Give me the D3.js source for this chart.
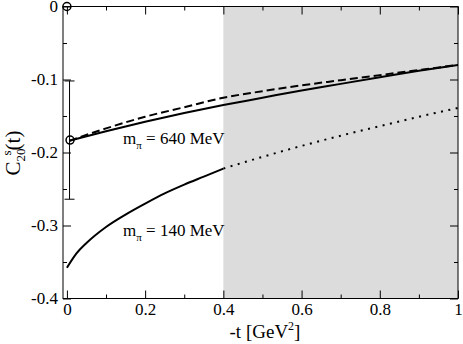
<!DOCTYPE html>
<html>
<head>
<meta charset="utf-8">
<script src="https://cdn.jsdelivr.net/npm/d3@7"></script>
<style>
  body { margin: 0; background: #fff; }
  svg text { font-family: "Liberation Serif", "Times New Roman", Times, serif !important; }
</style>
</head>
<body>
<div id="chart"></div>
<script>
// data
var t640 = [0.006, 0.1, 0.2, 0.3, 0.4, 0.5, 0.6, 0.7, 0.8, 0.9, 1.0];
var c640solid = [-0.184, -0.171, -0.158, -0.146, -0.135, -0.125, -0.115, -0.106, -0.097, -0.088, -0.080];
var c640dash = [-0.184, -0.167, -0.151, -0.138, -0.125, -0.116, -0.108, -0.101, -0.094, -0.087, -0.080];
var t140 = [0, 0.025, 0.05, 0.1, 0.15, 0.2, 0.25, 0.3, 0.35, 0.4];
var c140 = [-0.358, -0.338, -0.324, -0.302, -0.285, -0.270, -0.256, -0.244, -0.233, -0.222];
var t140dot = [0.4, 0.5, 0.6, 0.7, 0.8, 0.9, 1.0];
var c140dot = [-0.222, -0.206, -0.191, -0.177, -0.164, -0.151, -0.139];
var pointT = [0, 0.008];
var pointC = [0, -0.183];
var pointErr = [0, 0.081];
var shadeRange = [0.4, 1.0];
var xTicks = [0, 0.2, 0.4, 0.6, 0.8, 1];
var xTickLabels = ["0", "0.2", "0.4", "0.6", "0.8", "1"];
var xMinor = [0.1, 0.3, 0.5, 0.7, 0.9];
var yTicks = [0, -0.1, -0.2, -0.3, -0.4];
var yTickLabels = ["0", "-0.1", "-0.2", "-0.3", "-0.4"];
var yMinor = [-0.05, -0.15, -0.25, -0.35];

var w = 463, h = 344;
var pLeft = 63, pRight = 458, pTop = 6.5, pBottom = 298.5;
var serif = "'Liberation Serif', 'Times New Roman', Times, serif";

var svg = d3.select("#chart").append("svg").attr("width", w).attr("height", h)
  .style("font-family", serif);

// scales
var xScale = d3.scaleLinear().domain([-0.01, 1]).range([pLeft, pRight]);
var yScale = d3.scaleLinear().domain([-0.4, 0]).range([pBottom, pTop]);

// shaded region
svg.append("rect").attr("x", xScale(shadeRange[0])).attr("y", pTop)
  .attr("width", xScale(shadeRange[1]) - xScale(shadeRange[0])).attr("height", pBottom - pTop)
  .attr("fill", "#dcdcdc");

// axes, ticks inward on all sides
function tickAxis(axis, scale, vals, size, tr, labels) {
  var a = axis(scale).tickValues(vals).tickSizeInner(-size).tickSizeOuter(0);
  if (labels) { a.tickFormat(function(d, i) { return labels[i]; }); } else { a.tickFormat(""); }
  var g = svg.append("g").attr("transform", tr).call(a);
  g.attr("font-family", null).attr("font-size", 17);
  g.select(".domain").remove();
  g.selectAll("line").attr("stroke", "#000");
  g.selectAll("text").attr("fill", "#000").style("font-family", serif).style("font-size", "17px");
  return g;
}
var gx = tickAxis(d3.axisBottom, xScale, xTicks, 8, "translate(0," + pBottom + ")", xTickLabels);
gx.selectAll("text").attr("y", 4);
tickAxis(d3.axisBottom, xScale, xMinor, 4, "translate(0," + pBottom + ")");
tickAxis(d3.axisTop, xScale, xTicks, 8, "translate(0," + pTop + ")");
tickAxis(d3.axisTop, xScale, xMinor, 4, "translate(0," + pTop + ")");
var gy = tickAxis(d3.axisLeft, yScale, yTicks, 8, "translate(" + pLeft + ",0)", yTickLabels);
gy.selectAll("text").attr("x", -5);
tickAxis(d3.axisLeft, yScale, yMinor, 4, "translate(" + pLeft + ",0)");
tickAxis(d3.axisRight, yScale, yTicks, 8, "translate(" + pRight + ",0)");
tickAxis(d3.axisRight, yScale, yMinor, 4, "translate(" + pRight + ",0)");

// frame
svg.append("rect").attr("x", pLeft).attr("y", pTop).attr("width", pRight - pLeft).attr("height", pBottom - pTop)
  .attr("fill", "none").attr("stroke", "#000").attr("stroke-width", 1);

// curves
var line = d3.line().x(function(d) { return xScale(d[0]); }).y(function(d) { return yScale(d[1]); }).curve(d3.curveMonotoneX);
function addCurve(ts, cs, dash) {
  svg.append("path").datum(d3.zip(ts, cs)).attr("d", line).attr("fill", "none")
    .attr("stroke", "#000").attr("stroke-width", 2).attr("stroke-dasharray", dash);
}
addCurve(t640, c640dash, "8,4");
addCurve(t640, c640solid, null);
addCurve(t140, c140, null);
addCurve(t140dot, c140dot, "2,5.5");

// points with error bars
var pts = d3.zip(pointT, pointC, pointErr);
pts.forEach(function(p) {
  if (p[2] > 0) {
    var px = xScale(p[0]) - 0.5;
    svg.append("line").attr("x1", px).attr("x2", px).attr("y1", yScale(p[1] + p[2])).attr("y2", yScale(p[1] - p[2])).attr("stroke", "#000");
    [p[1] + p[2], p[1] - p[2]].forEach(function(v) {
      svg.append("line").attr("x1", px - 5).attr("x2", px + 5).attr("y1", yScale(v)).attr("y2", yScale(v)).attr("stroke", "#000");
    });
  }
});
svg.selectAll("circle.pt").data(pts).enter().append("circle").attr("class", "pt")
  .attr("cx", function(d) { return xScale(d[0]); }).attr("cy", function(d) { return yScale(d[1]); })
  .attr("r", 4).attr("fill", "none").attr("stroke", "#000").attr("stroke-width", 1.5);

// curve labels
function mLabel(x, y, mev) {
  var t = svg.append("text").attr("x", x).attr("y", y).style("font-size", "17px");
  t.append("tspan").text("m");
  t.append("tspan").style("font-size", "11px").attr("dy", 5).text("\u03c0");
  t.append("tspan").attr("dy", -5).text(" = " + mev + " MeV");
}
mLabel(123, 144, "640");
mLabel(123, 236, "140");

// axis titles
var xt = svg.append("text").attr("x", 265).attr("y", 338).attr("text-anchor", "middle").style("font-size", "19px");
xt.append("tspan").text("-t [GeV");
xt.append("tspan").style("font-size", "12px").attr("dy", -8).text("2");
xt.append("tspan").attr("dy", 8).text("]");

var yt = svg.append("text").attr("transform", "translate(20,153) rotate(-90)").attr("text-anchor", "middle").style("font-size", "21px");
yt.append("tspan").text("C");
yt.append("tspan").style("font-size", "13px").attr("dy", 5).text("20");
yt.append("tspan").style("font-size", "13px").attr("dy", -14).attr("dx", -7).text("s");
yt.append("tspan").attr("dy", 9).text("(t)");
</script>
</body>
</html>
